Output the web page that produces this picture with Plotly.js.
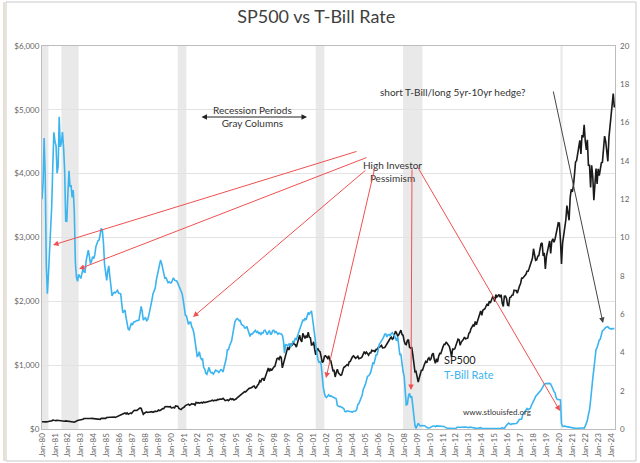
<!DOCTYPE html>
<html>
<head>
<meta charset="utf-8">
<script src="https://cdn.plot.ly/plotly-3.0.1.min.js"></script>
<style>html,body{margin:0;padding:0;background:#fff;}#chart{width:640px;height:463px;}</style>
</head>
<body>
<div id="chart"></div>
<script>
// Monthly data, Jan 1980 .. Apr 2024
const startYear = 1980;
const tbillRate = [
12.00,12.86,15.20,13.20,8.58,7.07,8.06,9.13,10.27,11.62,13.73,15.49,
15.02,14.79,13.36,13.69,16.30,14.73,14.95,15.51,14.70,13.54,10.86,10.85,
12.28,13.48,12.68,12.70,12.09,12.47,11.35,8.68,7.92,7.71,8.07,7.94,
7.86,8.11,8.35,8.21,8.19,8.79,9.08,9.34,9.00,8.64,8.76,9.00,
8.90,9.09,9.52,9.69,9.83,9.87,10.12,10.47,10.37,9.74,8.61,8.06,
7.76,8.27,8.52,7.95,7.48,6.95,7.08,7.14,7.10,7.16,7.24,7.10,
7.07,7.06,6.56,6.06,6.15,6.21,5.83,5.53,5.21,5.18,5.35,5.53,
5.43,5.59,5.59,5.64,5.66,5.67,5.69,6.04,6.40,6.13,5.69,5.77,
5.81,5.66,5.70,5.91,6.26,6.46,6.73,7.06,7.24,7.35,7.76,8.07,
8.27,8.53,8.82,8.65,8.43,8.15,7.88,7.90,7.75,7.64,7.69,7.63,
7.64,7.74,7.90,7.77,7.74,7.73,7.62,7.45,7.36,7.17,7.06,6.74,
6.22,5.94,5.91,5.65,5.46,5.57,5.58,5.33,5.22,4.99,4.56,4.07,
3.80,3.84,4.04,3.75,3.63,3.66,3.21,3.13,2.91,2.86,3.13,3.22,
3.00,2.93,2.95,2.87,2.96,3.07,3.04,3.02,2.95,3.02,3.10,3.06,
2.98,3.25,3.50,3.68,4.14,4.14,4.33,4.48,4.62,4.95,5.29,5.60,
5.71,5.77,5.73,5.65,5.67,5.47,5.42,5.40,5.28,5.28,5.36,5.14,
5.00,4.83,4.96,4.95,5.02,5.09,5.15,5.05,5.09,4.99,5.03,4.91,
5.03,5.01,5.14,5.16,5.05,4.93,5.05,5.14,4.95,4.97,5.14,5.16,
5.04,5.09,5.03,4.95,5.00,4.98,4.96,4.90,4.61,3.96,4.41,4.39,
4.34,4.44,4.44,4.29,4.50,4.57,4.55,4.72,4.68,4.86,5.07,5.20,
5.32,5.55,5.69,5.66,5.79,5.69,5.96,6.09,6.00,6.11,6.17,5.77,
5.15,4.88,4.42,3.87,3.62,3.49,3.51,3.36,2.64,2.16,1.87,1.69,
1.65,1.73,1.79,1.72,1.73,1.70,1.68,1.62,1.63,1.58,1.23,1.19,
1.17,1.17,1.13,1.13,1.07,0.92,0.90,0.95,0.94,0.92,0.93,0.90,
0.88,0.93,0.94,0.94,1.02,1.27,1.33,1.48,1.65,1.76,2.07,2.19,
2.33,2.54,2.74,2.78,2.84,2.97,3.22,3.44,3.42,3.71,3.88,3.89,
4.24,4.43,4.51,4.60,4.72,4.79,4.95,4.96,4.81,4.92,4.94,4.85,
4.98,5.03,4.94,4.87,4.73,4.61,4.82,4.20,3.89,3.90,3.27,3.00,
2.75,2.12,1.26,1.29,1.73,1.86,1.63,1.72,1.13,0.67,0.19,0.03,
0.13,0.30,0.21,0.16,0.18,0.18,0.18,0.17,0.12,0.07,0.05,0.05,
0.06,0.11,0.15,0.16,0.16,0.12,0.16,0.16,0.15,0.13,0.14,0.14,
0.15,0.13,0.10,0.06,0.04,0.04,0.04,0.02,0.01,0.02,0.01,0.01,
0.03,0.09,0.08,0.08,0.09,0.09,0.10,0.10,0.11,0.10,0.09,0.07,
0.07,0.10,0.09,0.06,0.04,0.05,0.04,0.04,0.02,0.05,0.07,0.07,
0.04,0.05,0.05,0.03,0.03,0.04,0.03,0.03,0.02,0.02,0.02,0.03,
0.03,0.02,0.03,0.02,0.02,0.02,0.03,0.07,0.02,0.02,0.12,0.23,
0.26,0.31,0.29,0.23,0.27,0.27,0.30,0.30,0.29,0.33,0.45,0.51,
0.51,0.52,0.74,0.80,0.89,0.98,1.07,1.01,1.03,1.07,1.23,1.32,
1.41,1.57,1.70,1.76,1.86,1.90,1.96,2.03,2.13,2.25,2.33,2.37,
2.37,2.39,2.40,2.38,2.35,2.17,2.10,1.95,1.89,1.65,1.54,1.54,
1.52,1.52,0.29,0.14,0.13,0.16,0.13,0.10,0.11,0.10,0.09,0.09,
0.08,0.04,0.03,0.02,0.02,0.04,0.05,0.05,0.04,0.05,0.05,0.04,
0.15,0.33,0.44,0.76,0.98,1.49,2.23,2.63,3.13,3.72,4.15,4.25,
4.54,4.65,4.69,4.92,5.14,5.16,5.25,5.30,5.32,5.34,5.27,5.24,
5.22,5.24,5.24,5.24
];
const sp500 = [
114.2,113.7,102.1,106.3,111.2,114.2,121.7,122.4,125.5,127.5,140.5,135.8,
129.6,131.3,136.0,133.0,132.6,131.2,130.9,122.8,116.2,121.9,126.4,122.6,
120.4,113.1,112.0,116.4,111.9,109.6,107.1,119.5,120.4,133.7,138.5,140.6,
145.3,148.1,153.0,164.4,162.4,168.1,162.6,164.4,166.1,163.6,166.4,164.9,
163.4,157.1,159.2,160.1,150.6,153.2,150.7,166.7,166.1,166.1,163.6,167.2,
179.6,181.2,180.7,179.8,189.6,191.9,190.9,188.6,182.1,189.8,202.2,211.3,
211.8,226.9,238.9,235.5,247.4,250.8,236.1,252.9,231.3,244.0,249.2,242.2,
274.1,284.2,291.7,288.4,290.1,304.0,318.7,329.8,321.8,251.8,230.3,247.1,
257.1,267.8,258.9,261.3,262.2,273.5,272.0,261.5,271.9,279.0,273.7,277.7,
297.5,288.9,294.9,309.6,320.5,318.0,346.1,351.5,349.2,340.4,346.0,353.4,
329.1,331.9,339.9,330.8,361.2,358.0,356.2,322.6,306.1,304.0,322.2,330.2,
343.9,367.1,375.2,375.3,389.8,371.2,387.8,395.4,387.9,392.5,375.2,417.1,
408.8,412.7,403.7,415.0,415.4,408.1,424.2,414.0,417.8,418.7,431.4,435.7,
438.8,443.4,451.7,440.2,450.2,450.5,448.1,463.6,458.9,467.8,461.8,466.5,
481.6,467.1,445.8,450.9,456.5,444.3,458.3,475.5,462.7,472.4,453.7,459.3,
470.4,487.4,500.7,514.7,533.4,544.8,562.1,561.9,584.4,581.5,605.4,615.9,
636.0,640.4,645.5,654.2,669.1,670.6,640.0,652.0,687.3,705.3,757.0,740.7,
786.2,790.8,757.1,801.3,848.3,885.1,954.3,899.5,947.3,914.6,955.4,970.4,
980.3,1049.3,1101.8,1111.8,1090.8,1133.8,1120.7,957.3,1017.0,1098.7,1163.6,1229.2,
1279.6,1238.3,1286.4,1335.2,1301.8,1372.7,1328.7,1320.4,1282.7,1362.9,1388.9,1469.3,
1394.5,1366.4,1498.6,1452.4,1420.6,1454.6,1430.8,1517.7,1436.5,1429.4,1315.2,1320.3,
1366.0,1239.9,1160.3,1249.5,1255.8,1224.4,1211.2,1133.6,1040.9,1059.8,1139.5,1148.1,
1130.2,1106.7,1147.4,1076.9,1067.1,989.8,911.6,916.1,815.3,885.8,936.3,879.8,
855.7,841.2,848.2,916.9,963.6,974.5,990.3,1008.0,996.0,1050.7,1058.2,1111.9,
1131.1,1144.9,1126.2,1107.3,1120.7,1140.8,1101.7,1104.2,1114.6,1130.2,1173.8,1211.9,
1181.3,1203.6,1180.6,1156.9,1191.5,1191.3,1234.2,1220.3,1228.8,1207.0,1249.5,1248.3,
1280.1,1280.7,1294.9,1310.6,1270.1,1270.2,1276.7,1303.8,1335.9,1377.9,1400.6,1418.3,
1438.2,1406.8,1420.9,1482.4,1530.6,1503.4,1455.3,1474.0,1526.8,1549.4,1481.1,1468.4,
1378.6,1330.6,1322.7,1385.6,1400.4,1280.0,1267.4,1282.8,1166.4,968.8,896.2,903.3,
825.9,735.1,797.9,872.8,919.1,919.3,987.5,1020.6,1057.1,1036.2,1095.6,1115.1,
1073.9,1104.5,1169.4,1186.7,1089.4,1030.7,1101.6,1049.3,1141.2,1183.3,1180.6,1257.6,
1286.1,1327.2,1325.8,1363.6,1345.2,1320.6,1292.3,1218.9,1131.4,1253.3,1247.0,1257.6,
1312.4,1365.7,1408.5,1397.9,1310.3,1362.2,1379.3,1406.6,1440.7,1412.2,1416.2,1426.2,
1498.1,1514.7,1569.2,1597.6,1630.7,1606.3,1685.7,1633.0,1681.6,1756.5,1805.8,1848.4,
1782.6,1859.5,1872.3,1884.0,1923.6,1960.2,1931.0,2003.4,1972.3,2018.1,2067.6,2058.9,
1995.0,2104.5,2067.9,2085.5,2107.4,2063.1,2103.8,1972.2,1920.0,2079.4,2080.4,2043.9,
1940.2,1932.2,2059.7,2065.3,2097.0,2098.9,2173.6,2171.0,2168.3,2126.2,2199.0,2238.8,
2278.9,2363.6,2362.7,2384.2,2411.8,2423.4,2470.3,2471.7,2519.4,2575.3,2647.6,2673.6,
2823.8,2713.8,2640.9,2648.1,2705.3,2718.4,2816.3,2901.5,2914.0,2711.7,2760.2,2506.9,
2704.1,2784.5,2834.4,2945.8,2752.1,2941.8,2980.4,2926.5,2976.7,3037.6,3141.0,3230.8,
3225.5,2954.2,2584.6,2912.4,3044.3,3100.3,3271.1,3500.3,3363.0,3270.0,3621.6,3756.1,
3714.2,3811.2,3972.9,4181.2,4204.1,4297.5,4395.3,4522.7,4307.5,4605.4,4567.0,4766.2,
4515.6,4373.9,4530.4,4131.9,4132.2,3785.4,4130.3,3955.0,3585.6,3872.0,4080.1,3839.5,
4076.6,3970.2,4109.3,4169.5,4179.8,4450.4,4589.0,4507.7,4288.1,4193.8,4567.8,4769.8,
4845.7,5096.3,5254.4,5035.7
];
const recessionStarts = ['1980-01-01','1981-07-01','1990-07-01','2001-03-01','2007-12-01','2020-02-01'];
const recessionEnds   = ['1980-07-01','1982-11-01','1991-03-01','2001-11-01','2009-06-01','2020-04-01'];

const months = sp500.map((_, i) => {
  const y = startYear + Math.floor(i / 12);
  const m = (i % 12) + 1;
  return y + '-' + (m < 10 ? '0' + m : m) + '-01';
});

// pixel -> paper helpers (plot area: x 42..615, y 46..429)
const L = 42, R = 615, T = 46, B = 429;
const px = x => (x - L) / (R - L);
const py = y => (B - y) / (B - T);

const traces = [
  {x: months, y: sp500, type: 'scatter', mode: 'lines', name: 'SP500',
   line: {color: '#1a1a1a', width: 1.6}, yaxis: 'y', hoverinfo: 'skip'},
  {x: months, y: tbillRate, type: 'scatter', mode: 'lines', name: 'T-Bill Rate',
   line: {color: '#3bb4ef', width: 1.6}, yaxis: 'y2', hoverinfo: 'skip'}
];

const shapes = recessionStarts.map((s, i) => ({
  type: 'rect', xref: 'x', yref: 'paper', x0: s, x1: recessionEnds[i], y0: 0, y1: 1,
  fillcolor: '#e9e9e9', line: {width: 0}, layer: 'below'
}));
// outer frame
shapes.push({type: 'rect', xref: 'paper', yref: 'paper', x0: px(6), x1: px(636), y0: py(461), y1: py(2),
  line: {color: '#c9c9c9', width: 1}, fillcolor: 'rgba(0,0,0,0)', layer: 'below'});
shapes.push({type: 'line', xref: 'paper', yref: 'paper', x0: px(4), x1: px(4), y0: py(461), y1: py(2),
  line: {color: '#eadfcf', width: 2}, layer: 'below'});

const red = '#f05050';
function arrow(tx, ty, hx, hy, color, both) {
  return {xref: 'paper', yref: 'paper', x: px(hx), y: py(hy), ax: tx - hx, ay: ty - hy,
    axref: 'pixel', ayref: 'pixel', text: '', showarrow: true, arrowhead: 2, arrowsize: 1.1,
    arrowwidth: 1, arrowcolor: color, startarrowhead: 2, startarrowsize: 1.1,
    arrowside: both ? 'end+start' : 'end', standoff: 0, startstandoff: 0};
}
const font = 'Lato, "Open Sans", sans-serif';
const annotations = [
  {xref: 'paper', yref: 'paper', x: px(252), y: py(102), text: 'Recession Periods<br>Gray Columns',
   showarrow: false, font: {family: font, size: 10, color: '#333'}, align: 'center'},
  arrow(200, 117, 307, 117, '#222', true),
  {xref: 'paper', yref: 'paper', x: px(392), y: py(157), text: 'High Investor<br>Pessimism',
   showarrow: false, font: {family: font, size: 10, color: '#333'}, align: 'center'},
  arrow(358, 151, 53, 245, red),
  arrow(368, 157, 79, 269, red),
  arrow(367, 169, 193, 317, red),
  arrow(375, 167, 326, 378, red),
  arrow(412, 168, 411, 390, red),
  arrow(417, 166, 560, 411, red),
  {xref: 'paper', yref: 'paper', x: px(528), y: py(84), text: 'short T-Bill/long 5yr-10yr hedge?',
   showarrow: false, font: {family: font, size: 10, color: '#333'}},
  arrow(553, 90, 603, 323, '#444'),
  {xref: 'paper', yref: 'paper', x: px(442), y: py(368), xanchor: 'left', text: 'SP500',
   showarrow: false, font: {family: font, size: 11, color: '#222'}},
  {xref: 'paper', yref: 'paper', x: px(442), y: py(383), xanchor: 'left', text: 'T-Bill Rate',
   showarrow: false, font: {family: font, size: 11, color: '#3bb4ef'}},
  {xref: 'paper', yref: 'paper', x: px(533), y: py(419), text: 'www.stlouisfed.org',
   showarrow: false, font: {family: font, size: 8, color: '#333'}}
];

const layout = {
  width: 640, height: 463,
  margin: {l: L, r: 640 - R, t: T, b: 463 - B, pad: 0},
  paper_bgcolor: '#ffffff', plot_bgcolor: '#ffffff',
  showlegend: false,
  title: {text: 'SP500 vs T-Bill Rate', x: 0.494, xanchor: 'center', y: 0.963, yanchor: 'middle',
    font: {family: font, size: 18, color: '#404040'}},
  xaxis: {type: 'date', range: ['1980-01-01', '2024-04-20'], tickformat: '%b-%y', dtick: 'M12',
    tick0: '1980-01-01', tickangle: -90, tickfont: {family: font, size: 8, color: '#666'},
    showgrid: false, showline: true, mirror: true, linecolor: '#bdbdbd', linewidth: 1,
    ticks: '', zeroline: false},
  yaxis: {range: [0, 6000], dtick: 1000, tickprefix: '$', tickformat: ',',
    tickfont: {family: font, size: 8, color: '#666'}, gridcolor: '#e3e3e3', showline: true,
    mirror: true, linecolor: '#bdbdbd', zeroline: false, ticks: '', automargin: false},
  yaxis2: {range: [0, 20], dtick: 2, overlaying: 'y', side: 'right', showgrid: false,
    tickfont: {family: font, size: 8, color: '#666'}, zeroline: false, ticks: '', automargin: false,
    ticklabelstandoff: 4},
  shapes: shapes,
  annotations: annotations
};

Plotly.newPlot('chart', traces, layout, {staticPlot: true, displayModeBar: false});
</script>
</body>
</html>
